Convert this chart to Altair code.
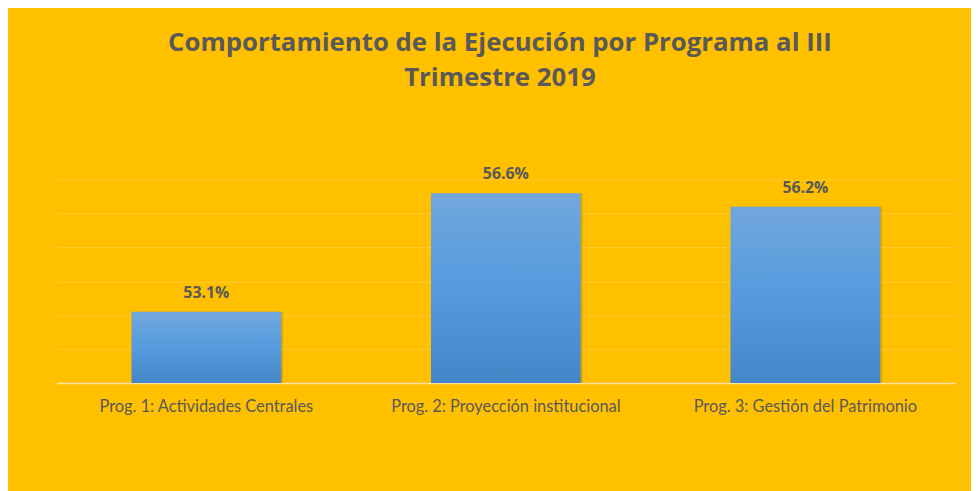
import altair as alt
import pandas as pd

programas = [
    "Prog. 1: Actividades Centrales",
    "Prog. 2: Proyección institucional",
    "Prog. 3: Gestión del Patrimonio",
]
ejecucion = [53.1, 56.6, 56.2]
etiquetas = ["53.1%", "56.6%", "56.2%"]
grid_vals = [51, 52, 53, 54, 55, 56, 57]
titulo = ["Comportamiento de la Ejecución por Programa al III", "Trimestre 2019"]

df = pd.DataFrame({"programa": programas, "ejecucion": ejecucion, "etiqueta": etiquetas})

x = alt.X(
    "programa:N", sort=programas, title=None,
    scale=alt.Scale(paddingInner=0.5, paddingOuter=0.25),
    axis=alt.Axis(labelAngle=0, labelFont="Lato", labelFontSize=16.5, labelColor="#595959",
                  labelLimit=0, ticks=False, tickSize=0, labelPadding=29,
                  labelBaseline="alphabetic",
                  domainColor="#FBE3A3", domainWidth=1.5, grid=False),
)
y = alt.Y(
    "ejecucion:Q", title=None,
    scale=alt.Scale(domain=[51, 57], nice=False, zero=False),
    axis=alt.Axis(labels=False, ticks=False, domain=False, grid=True, values=grid_vals,
                  gridColor="white", gridOpacity=0.18, gridWidth=1),
)

grad = alt.Gradient(
    gradient="linear",
    stops=[alt.GradientStop(color="#72A7DD", offset=0),
           alt.GradientStop(color="#559BDE", offset=0.5),
           alt.GradientStop(color="#4487C7", offset=1)],
    x1=0, x2=0, y1=0, y2=1,
)

base = alt.Chart(df)
shadow = base.mark_bar(color="#000000", opacity=0.12, xOffset=2).encode(x=x, y=y, y2=alt.datum(51))
bars = base.mark_bar(color=grad).encode(x=x, y=y, y2=alt.datum(51))
labels = base.mark_text(dy=-14, baseline="alphabetic", font="Open Sans", fontSize=16,
                        fontWeight="bold", color="#595959").encode(x=x, y=y, text="etiqueta:N")

chart = (
    alt.layer(shadow, bars, labels)
    .properties(
        width=906, height=205,
        autosize=alt.AutoSizeParams(type="none"),
        padding={"left": 49, "top": 171, "right": 16, "bottom": 107},
        title=alt.TitleParams(titulo, font="Open Sans", fontSize=26, fontWeight="bold",
                              color="#595959", anchor="middle", baseline="alphabetic",
                              offset=55, lineHeight=35, dx=-6),
    )
    .configure(background="#FFC000")
    .configure_view(stroke=None)
)

chart.save("out.html", embed_options={"renderer": "svg", "actions": False})
